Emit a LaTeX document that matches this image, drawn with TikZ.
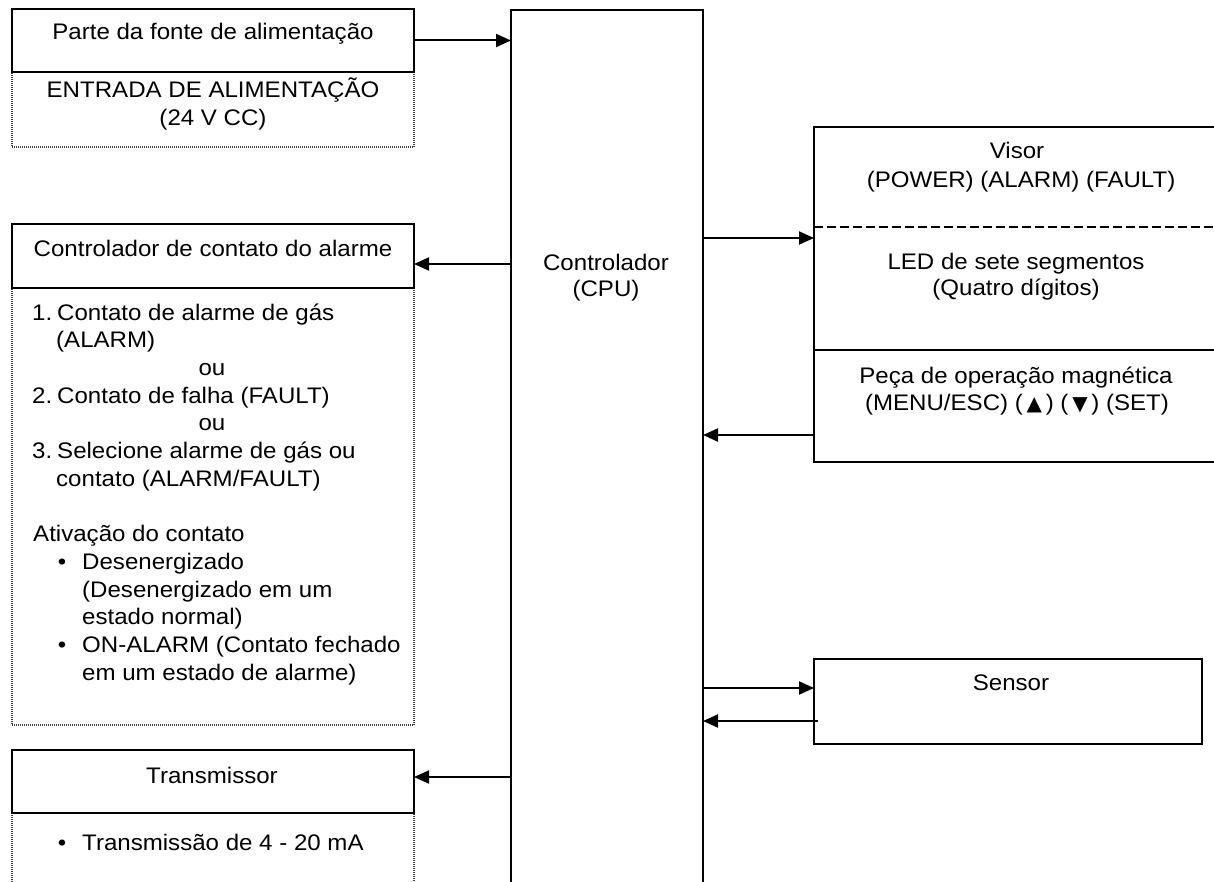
\documentclass[tikz,border=0pt]{standalone}
\usepackage{fontspec}
\setmainfont[FakeStretch=1.07]{Liberation Sans}
\newfontfamily\symfont{DejaVu Sans}
\usetikzlibrary{arrows.meta,calc}
\begin{document}
\begin{tikzpicture}[x=1pt,y=-1pt,
  box/.style={draw,line width=2pt,inner sep=0,outer sep=0,anchor=north west},
  dotbox/.style={draw=black!75,line width=1.5pt,dash pattern=on 1pt off 1pt,inner sep=0,outer sep=0,anchor=north west},
  txt/.style={anchor=base,inner sep=0,font=\fontsize{22.5}{27}\selectfont},
  ltxt/.style={txt,anchor=base west},
  arr/.style={line width=2pt,-{Triangle[length=15pt,width=13pt]}}]
\useasboundingbox (0,0) rectangle (1214,882);

% left column
\node[dotbox,minimum width=402pt,minimum height=75pt] (pwrin) at (12,72) {};
\node[box,minimum width=402pt,minimum height=63pt] (pwr) at (12,9) {};
\node[dotbox,minimum width=402pt,minimum height=437pt] (alarmin) at (12,288) {};
\node[box,minimum width=402pt,minimum height=64pt] (alarm) at (12,224) {};
\node[dotbox,minimum width=402pt,minimum height=100pt] (txin) at (12,813) {};
\node[box,minimum width=402pt,minimum height=63pt] (tx) at (12,750) {};

% controller
\node[box,minimum width=192pt,minimum height=900pt] (ctrl) at (511,10) {};

% right column
\node[box,minimum width=402pt,minimum height=335pt] (disp) at (814,127) {};
\draw[line width=1.5pt,dash pattern=on 9pt off 4pt] ($(disp.north west)+(0,100)$) -- ($(disp.north east)+(0,100)$);
\draw[line width=2pt] ($(disp.north west)+(0,223)$) -- ($(disp.north east)+(0,223)$);
\node[box,minimum width=388pt,minimum height=85pt] (sensor) at (814,659) {};

% texts
\node[txt] (t1) at (213,40) {Parte da fonte de alimentação};
\node[txt] (t2) at (213,98) {ENTRADA DE ALIMENTAÇÃO};
\node[txt] (t3) at (213,126) {(24 V CC)};
\node[txt] (t4) at (213,257) {Controlador de contato do alarme};

\node[ltxt] (n1) at (32,320) {1.};
\node[ltxt] (l1) at (57,320) {Contato de alarme de gás};
\node[ltxt] (l2) at (56,347.7) {(ALARM)};
\node[txt] (l3) at (212,375.4) {ou};
\node[ltxt] (n2) at (32,403.1) {2.};
\node[ltxt] (l4) at (57,403.1) {Contato de falha (FAULT)};
\node[txt] (l5) at (212,430.8) {ou};
\node[ltxt] (n3) at (32,458.5) {3.};
\node[ltxt] (l6) at (57,458.5) {Selecione alarme de gás ou};
\node[ltxt] (l7) at (56,486.2) {contato (ALARM/FAULT)};
\node[ltxt] (l8) at (33,541.6) {Ativação do contato};
\node[txt] (b1) at (62,569.3) {•};
\node[ltxt] (l9) at (82,569.3) {Desenergizado};
\node[ltxt] (l10) at (82,597) {(Desenergizado em um};
\node[ltxt] (l11) at (82,624.7) {estado normal)};
\node[txt] (b2) at (62,652.4) {•};
\node[ltxt] (l12) at (82,652.4) {ON-ALARM (Contato fechado};
\node[ltxt] (l13) at (82,680.1) {em um estado de alarme)};

\node[txt] (t5) at (212,783) {Transmissor};
\node[txt] (b3) at (62,850) {•};
\node[ltxt] (t6) at (82,850) {Transmissão de 4 - 20 mA};

\node[txt] (c1) at (606,271) {Controlador};
\node[txt] (c2) at (606,297) {(CPU)};

\node[txt] (r1) at (1017,159) {Visor};
\node[txt] (r2) at (1021,188) {(POWER) (ALARM) (FAULT)};
\node[txt] (r3) at (1016,270) {LED de sete segmentos};
\node[txt] (r4) at (1016,296) {(Quatro dígitos)};
\node[txt] (r5) at (1016,383) {Peça de operação magnética};
\node[txt] (r6) at (1017,410) {(MENU/ESC) (\,{\symfont\fontsize{20}{20}\selectfont ▲}\,) (\,{\symfont\fontsize{20}{20}\selectfont ▼}\,) (SET)};
\node[txt] (s1) at (1011,690) {Sensor};

% connectors
\coordinate (aA) at ($(alarm.east)+(0,8)$);
\coordinate (aT) at ($(tx.east)+(0,-4.5)$);
\coordinate (dIn) at ($(disp.north west)+(0,111)$);
\coordinate (dOut) at ($(disp.north west)+(0,308)$);
\coordinate (sIn) at ($(sensor.north west)+(0,29)$);
\coordinate (sOut) at ($(sensor.north west)+(4,62)$);

\draw[arr] (pwr.east) -- (pwr.east -| ctrl.west);
\draw[arr] (ctrl.west |- aA) -- (aA);
\draw[arr] (ctrl.west |- aT) -- (aT);
\draw[arr] (ctrl.east |- dIn) -- (dIn);
\draw[arr] (dOut) -- (dOut -| ctrl.east);
\draw[arr] (ctrl.east |- sIn) -- (sIn);
\draw[arr] (sOut) -- (sOut -| ctrl.east);
\end{tikzpicture}
\end{document}
